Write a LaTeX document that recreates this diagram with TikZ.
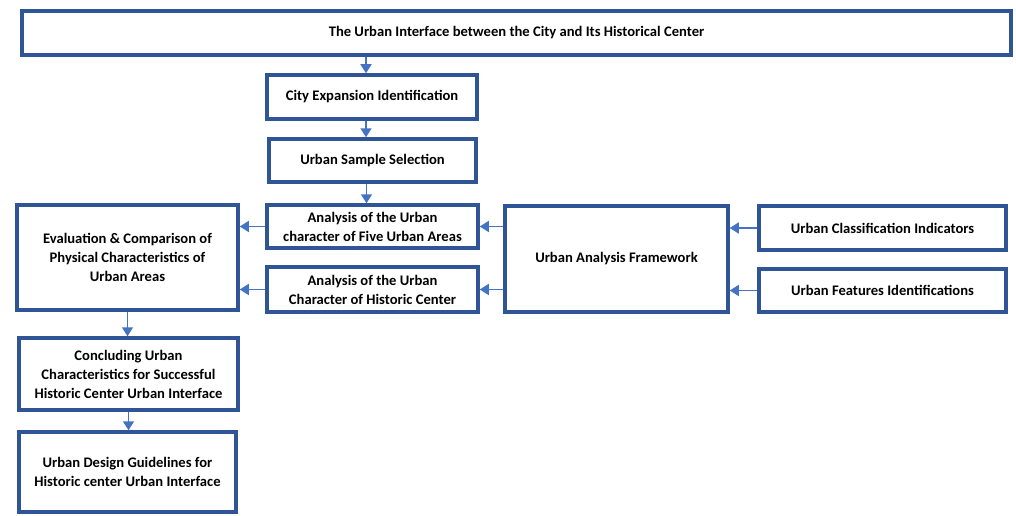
\documentclass[tikz,border=0pt]{standalone}
\usepackage{fontspec}
\setmainfont{Carlito}
\usetikzlibrary{positioning,arrows.meta}
\definecolor{boxblue}{RGB}{47,85,151}
\definecolor{arrowblue}{RGB}{68,114,196}
\tikzset{
  ubox/.style={draw=boxblue,line width=3.5pt,fill=white,align=center,inner sep=0pt,
    font=\fontsize{14.6}{19}\selectfont\bfseries},
  uarrow/.style={draw=arrowblue,line width=1.5pt,-{Triangle[width=11pt,length=9pt]}}
}
\begin{document}
\begin{tikzpicture}[x=1pt,y=-1pt]
  \fill[white] (0,0) rectangle (1016,516);
  \useasboundingbox (0,0) rectangle (1016,516);
  % main column
  \node[ubox,minimum width=989,minimum height=44] (title) at (516.5,33) {The Urban Interface between the City and Its Historical Center};
  \node[ubox,minimum width=210,minimum height=44] (expand) at (372,97) {City Expansion Identification};
  \node[ubox,minimum width=207,minimum height=43] (sample) at (372.5,160.5) {Urban Sample Selection};
  \node[ubox,minimum width=211,minimum height=43] (areas) at (372.5,226.5) {Analysis of the Urban\\character of Five Urban Areas};
  \node[ubox,minimum width=211,minimum height=45] (histc) at (372.5,289.5) {Analysis of the Urban\\Character of Historic Center};
  % right side
  \node[ubox,minimum width=223,minimum height=106] (frame) at (616.5,259) {Urban Analysis Framework};
  \node[ubox,minimum width=247,minimum height=44] (classi) at (882.5,228) {Urban Classification Indicators};
  \node[ubox,minimum width=247,minimum height=43] (feats) at (882.5,290.5) {Urban Features Identifications};
  % left column
  \node[ubox,minimum width=221,minimum height=105] (evalc) at (127.5,257.5) {Evaluation \& Comparison of\\Physical Characteristics of\\Urban Areas};
  \node[ubox,minimum width=219,minimum height=72] (conc) at (128.5,374) {Concluding Urban\\Characteristics for Successful\\Historic Center Urban Interface};
  \node[ubox,minimum width=217,minimum height=80] (guide) at (127.5,472) {Urban Design Guidelines for\\Historic center Urban Interface};
  % connectors
  \draw[uarrow] ([xshift=-6]title.south -| expand) -- ([xshift=-6]expand.north);
  \draw[uarrow] ([xshift=-6]expand.south) -- ([xshift=-6]expand.south |- sample.north);
  \draw[uarrow] ([xshift=-6]sample.south) -- ([xshift=-6]sample.south |- areas.north);
  \draw[uarrow] (areas.west) -- (areas.west -| evalc.east);
  \draw[uarrow] (histc.west) -- (histc.west -| evalc.east);
  \draw[uarrow] (frame.west |- areas) -- (areas.east);
  \draw[uarrow] (frame.west |- histc) -- (histc.east);
  \draw[uarrow] (classi.west) -- (classi.west -| frame.east);
  \draw[uarrow] (feats.west) -- (feats.west -| frame.east);
  \draw[uarrow] (evalc.south) -- (evalc.south |- conc.north);
  \draw[uarrow] (conc.south) -- (conc.south |- guide.north);
\end{tikzpicture}
\end{document}
